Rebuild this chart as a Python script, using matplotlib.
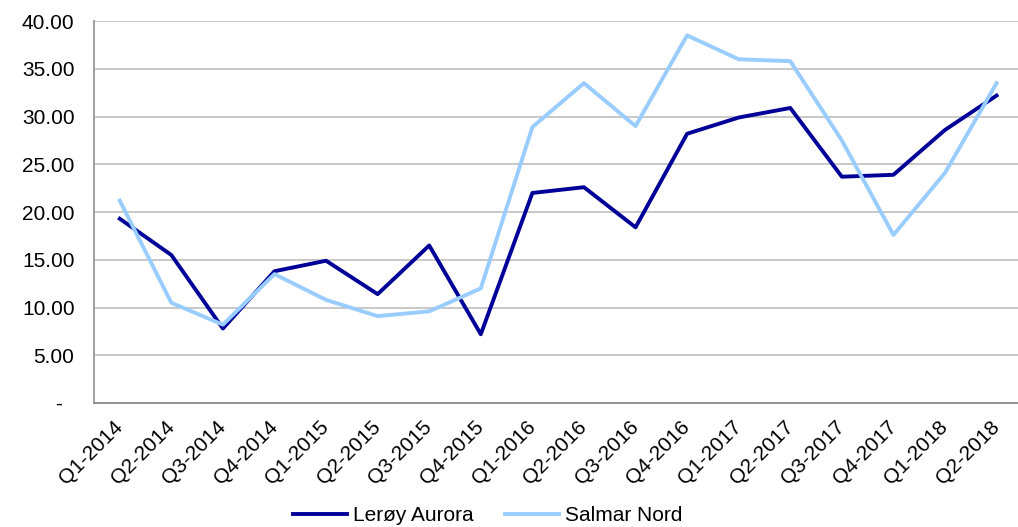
import numpy as np
import matplotlib
matplotlib.use('Agg')
import matplotlib.pyplot as plt

plt.rcParams['font.family'] = ['Liberation Sans', 'DejaVu Sans']

quarters = ['Q1-2014', 'Q2-2014', 'Q3-2014', 'Q4-2014', 'Q1-2015', 'Q2-2015',
            'Q3-2015', 'Q4-2015', 'Q1-2016', 'Q2-2016', 'Q3-2016', 'Q4-2016',
            'Q1-2017', 'Q2-2017', 'Q3-2017', 'Q4-2017', 'Q1-2018', 'Q2-2018']
leroy = [19.3, 15.5, 7.8, 13.8, 14.9, 11.4, 16.5, 7.2, 22.0, 22.6, 18.4, 28.2,
         29.9, 30.9, 23.7, 23.9, 28.6, 32.2]
salmar = [21.2, 10.5, 8.2, 13.5, 10.8, 9.1, 9.6, 12.0, 28.9, 33.5, 29.0, 38.5,
          36.0, 35.8, 27.5, 17.6, 24.1, 33.5]
yticks = [0, 5, 10, 15, 20, 25, 30, 35, 40]

fig = plt.figure(figsize=(10.18, 5.27), dpi=100)
ax = fig.add_axes([0.0923, 0.2353, 0.912, 0.7247])

x = np.arange(len(quarters))
ax.plot(x, leroy, color='#000099', lw=2.8, label='Lerøy Aurora')
ax.plot(x, salmar, color='#99ccff', lw=2.8, label='Salmar Nord')

ax.set_xlim(-0.5, len(quarters) - 0.5)
ax.set_ylim(0, 40)
ax.set_yticks(yticks)
ax.set_yticklabels(['-  '] + ['%.2f' % v for v in yticks[1:]], fontsize=15)
ax.set_xticks(x)
ax.set_xticklabels(quarters, fontsize=15, rotation=45, ha='right', va='center',
                   rotation_mode='anchor')
ax.tick_params(axis='both', length=0)
ax.tick_params(axis='y', pad=14)
ax.tick_params(axis='x', pad=15)

ax.grid(axis='y', color='#c8c8c8', lw=1.4)
ax.set_axisbelow(True)
for s in ['top', 'right']:
    ax.spines[s].set_visible(False)
ax.spines['left'].set_color('#a0a0a0')
ax.spines['bottom'].set_color('#909090')
ax.spines['left'].set_linewidth(1.4)
ax.spines['bottom'].set_linewidth(1.4)

fig.legend(loc='center', bbox_to_anchor=(0.479, 0.022), ncol=2, frameon=False,
           fontsize=15, handlelength=2.6, handletextpad=0.3, columnspacing=1.5)

fig.savefig('out.png', dpi=100)
